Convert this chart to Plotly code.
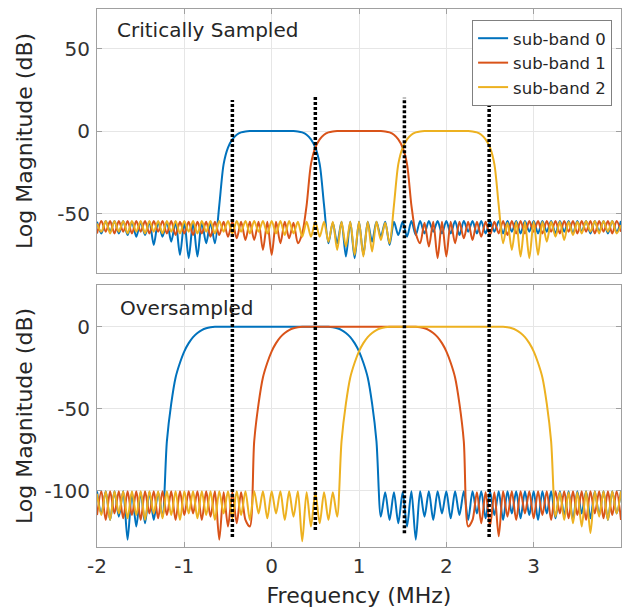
import plotly.graph_objects as go

# ---------------- data ----------------
freq_mhz = [
    -2.00, -1.95, -1.90, -1.85, -1.80, -1.75, -1.70, -1.65, -1.60, -1.55,
    -1.50, -1.45, -1.40, -1.35, -1.30, -1.25, -1.20, -1.15, -1.10, -1.05,
    -1.00, -0.95, -0.90, -0.85, -0.80, -0.75, -0.70, -0.65, -0.60, -0.55,
    -0.50, -0.45, -0.40, -0.35, -0.30, -0.25, -0.20, -0.15, -0.10, -0.05,
    0.00, 0.05, 0.10, 0.15, 0.20, 0.25, 0.30, 0.35, 0.40, 0.45,
    0.50, 0.55, 0.60, 0.65, 0.70, 0.75, 0.80, 0.85, 0.90, 0.95,
    1.00, 1.05, 1.10, 1.15, 1.20, 1.25, 1.30, 1.35, 1.40, 1.45,
    1.50, 1.55, 1.60, 1.65, 1.70, 1.75, 1.80, 1.85, 1.90, 1.95,
    2.00, 2.05, 2.10, 2.15, 2.20, 2.25, 2.30, 2.35, 2.40, 2.45,
    2.50, 2.55, 2.60, 2.65, 2.70, 2.75, 2.80, 2.85, 2.90, 2.95,
    3.00, 3.05, 3.10, 3.15, 3.20, 3.25, 3.30, 3.35, 3.40, 3.45,
    3.50, 3.55, 3.60, 3.65, 3.70, 3.75, 3.80, 3.85, 3.90, 3.95,
    4.00,
]

band_names = ["sub-band 0", "sub-band 1", "sub-band 2"]

# Critically sampled (top panel), dB
cs_band0 = [
    -55, -62, -54.5, -61, -54.5, -62, -54.5, -63, -55, -64,
    -55, -63, -55, -69, -55, -64, -55, -67, -55, -75,
    -55, -77, -55, -76, -55, -68, -55.5, -68, -45, -20,
    -10, -5, -2.2, -0.8, -0.2, 0, 0, 0, 0, 0,
    0, 0, 0, 0, 0, 0, -0.2, -0.8, -2.2, -5,
    -10, -20, -45, -68, -55.5, -68, -55, -76, -55, -77,
    -55, -75, -55, -67, -55, -64, -55, -69, -55, -63,
    -55, -64, -54.5, -63, -54.5, -62, -54.5, -61, -54.5, -62,
    -54.5, -62, -54.5, -63, -54.5, -61, -54.5, -62, -54.5, -62,
    -54.5, -61, -54.5, -62, -54.5, -61, -54.5, -62, -54.5, -61,
    -54.5, -62, -54.5, -61, -54.5, -62, -54.5, -61, -54.5, -62,
    -54.5, -61, -54.5, -62, -54.5, -61, -54.5, -62, -54.5, -61,
    -54.5,
]
cs_band1 = [
    -62, -54.5, -61, -54.5, -62, -54.5, -61, -54.5, -62, -54.5,
    -61, -54.5, -62, -54.5, -61, -54.5, -62, -54.5, -63, -55,
    -62, -55, -63, -55, -62, -55, -64, -55, -63, -55,
    -64, -55, -65, -55, -66, -55, -66, -55, -72, -55,
    -75, -55, -68, -55, -65, -55.5, -68, -62, -45, -20,
    -10, -5, -2.2, -0.8, -0.2, 0, 0, 0, 0, 0,
    0, 0, 0, 0, 0, 0, -0.2, -0.8, -2.2, -5,
    -10, -20, -45, -62, -68, -55.5, -70, -55, -77, -55,
    -76, -55, -68, -55, -65, -55, -66, -55, -64, -55,
    -63, -55, -62, -54.5, -63, -54.5, -62, -54.5, -62, -54.5,
    -61, -54.5, -62, -54.5, -61, -54.5, -62, -54.5, -61, -54.5,
    -62, -54.5, -61, -54.5, -62, -54.5, -61, -54.5, -62, -54.5,
    -61,
]
cs_band2 = [
    -56, -61, -54.5, -62, -54.5, -61, -54.5, -62, -54.5, -61,
    -54.5, -62, -54.5, -61, -54.5, -62, -54.5, -61, -54.5, -62,
    -54.5, -61, -54.5, -62, -54.5, -61, -54.5, -62, -54.5, -61,
    -54.5, -62, -54.5, -61, -54.5, -62, -54.5, -61, -54.5, -62,
    -54.5, -62, -54.5, -63, -54.5, -62, -55, -64, -55, -64,
    -55, -64, -55, -67, -55, -72, -55, -70, -55, -75,
    -55, -76, -55, -73, -55, -66, -55.5, -68, -45, -20,
    -10, -5, -2.2, -0.8, -0.2, 0, 0, 0, 0, 0,
    0, 0, 0, 0, 0, 0, -0.2, -0.8, -2.2, -5,
    -10, -20, -45, -68, -55.5, -72, -55, -76, -55, -77,
    -55, -75, -55, -67, -55, -64, -55, -66, -55, -63,
    -55, -62, -54.5, -61, -54.5, -62, -54.5, -61, -54.5, -62,
    -57,
]

# Oversampled (bottom panel), dB
os_band0 = [
    -100.5, -114, -100.5, -118, -100.5, -116, -100.5, -130, -101, -122,
    -101, -120, -101, -118, -101, -116, -70, -47, -31, -22,
    -15, -10, -6.3, -3.8, -2, -0.9, -0.3, 0, 0, 0,
    0, 0, 0, 0, 0, 0, 0, 0, 0, 0,
    0, 0, 0, 0, 0, 0, 0, 0, 0, 0,
    0, 0, 0, 0, -0.3, -0.9, -2, -3.8, -6.3, -10,
    -15, -22, -31, -47, -70, -116, -101, -118, -101, -120,
    -101, -122, -100.5, -130, -100.5, -116, -100.5, -118, -100.5, -114,
    -100.5, -117, -100.5, -115, -100.5, -118, -100.5, -114, -100.5, -117,
    -100.5, -115, -100.5, -118, -100.5, -114, -100.5, -117, -100.5, -115,
    -100.5, -118, -100.5, -114, -100.5, -117, -100.5, -115, -100.5, -118,
    -100.5, -114, -100.5, -117, -100.5, -115, -100.5, -118, -100.5, -114,
    -100.5,
]
os_band1 = [
    -115, -100.5, -118, -100.5, -114, -100.5, -117, -100.5, -115, -100.5,
    -118, -100.5, -114, -100.5, -117, -100.5, -115, -100.5, -118, -100.5,
    -115, -100.5, -114, -100.5, -118, -100.5, -116, -100.5, -130, -101,
    -122, -101, -120, -101, -118, -122, -70, -47, -31, -22,
    -15, -10, -6.3, -3.8, -2, -0.9, -0.3, 0, 0, 0,
    0, 0, 0, 0, 0, 0, 0, 0, 0, 0,
    0, 0, 0, 0, 0, 0, 0, 0, 0, 0,
    0, 0, 0, 0, -0.3, -0.9, -2, -3.8, -6.3, -10,
    -15, -22, -31, -47, -70, -122, -118, -101, -120, -101,
    -122, -101, -128, -100.5, -116, -100.5, -118, -100.5, -114, -100.5,
    -117, -100.5, -115, -100.5, -118, -100.5, -114, -100.5, -117, -100.5,
    -115, -100.5, -118, -100.5, -114, -100.5, -117, -100.5, -115, -100.5,
    -118,
]
os_band2 = [
    -102, -115, -100.5, -118, -100.5, -114, -100.5, -117, -100.5, -115,
    -100.5, -118, -100.5, -114, -100.5, -117, -100.5, -115, -100.5, -118,
    -100.5, -114, -100.5, -117, -100.5, -115, -100.5, -118, -100.5, -114,
    -100.5, -117, -100.5, -115, -100.5, -118, -100.5, -114, -100.5, -117,
    -100.5, -114, -100.5, -118, -100.5, -116, -100.5, -131, -101, -122,
    -101, -120, -101, -118, -101, -116, -70, -47, -31, -22,
    -15, -10, -6.3, -3.8, -2, -0.9, -0.3, 0, 0, 0,
    0, 0, 0, 0, 0, 0, 0, 0, 0, 0,
    0, 0, 0, 0, 0, 0, 0, 0, 0, 0,
    0, 0, 0, 0, -0.3, -0.9, -2, -3.8, -6.3, -10,
    -15, -22, -31, -47, -70, -116, -101, -118, -101, -120,
    -101, -122, -100.5, -126, -100.5, -116, -100.5, -118, -100.5, -114,
    -100.5,
]

divider_freqs = [-0.45, 0.50, 1.52, 2.49]

x_tick_vals = [-2, -1, 0, 1, 2, 3]
x_tick_text = ["-2", "-1", "0", "1", "2", "3"]
top_y_ticks = [-50, 0, 50]
top_y_text = ["-50", "0", "50"]
bottom_y_ticks = [-100, -50, 0]
bottom_y_text = ["-100", "-50", "0"]

panel_titles = ["Critically Sampled", "Oversampled"]
x_title = "Frequency (MHz)"
y_title = "Log Magnitude (dB)"

for s in (cs_band0, cs_band1, cs_band2, os_band0, os_band1, os_band2):
    assert len(s) == len(freq_mhz), len(s)

# ---------------- figure ----------------
colors = ["#0072BD", "#D95319", "#EDB120"]
FONT = "DejaVu Sans"
TXT = "#262626"

fig = go.Figure()
for name, ys, col in zip(band_names, (cs_band0, cs_band1, cs_band2), colors):
    fig.add_trace(go.Scatter(x=freq_mhz, y=ys, name=name, mode="lines",
                             line=dict(color=col, width=2, shape="spline", smoothing=0.8),
                             xaxis="x", yaxis="y", legendgroup=name))
for name, ys, col in zip(band_names, (os_band0, os_band1, os_band2), colors):
    fig.add_trace(go.Scatter(x=freq_mhz, y=ys, name=name, mode="lines", showlegend=False,
                             line=dict(color=col, width=2, shape="spline", smoothing=0.8),
                             xaxis="x2", yaxis="y2", legendgroup=name))

axis_common = dict(showline=True, linecolor="#a0a0a0", linewidth=1.2, mirror="ticks",
                   ticks="inside", ticklen=5, tickcolor="#a0a0a0",
                   showgrid=True, gridcolor="#e6e6e6", gridwidth=1, zeroline=False,
                   automargin=False,
                   tickfont=dict(family=FONT, size=20, color="#333333"))

top_dom = [0.5093, 1.0]
bot_dom = [0.0, 0.487]

fig.update_layout(
    width=630, height=608,
    margin=dict(l=97, r=9, t=9, b=61),
    paper_bgcolor="white", plot_bgcolor="white",
    font=dict(family=FONT, color=TXT),
    xaxis=dict(domain=[0, 1], anchor="y", range=[-2, 4], tickvals=x_tick_vals,
               ticktext=x_tick_text, showticklabels=False, **axis_common),
    yaxis=dict(domain=top_dom, anchor="x", range=[-86, 74], tickvals=top_y_ticks,
               ticktext=top_y_text, ticklabelstandoff=2, **axis_common),
    xaxis2=dict(domain=[0, 1], anchor="y2", range=[-2, 4], tickvals=x_tick_vals,
                ticktext=x_tick_text, ticklabelstandoff=1,
                title=dict(text=x_title, font=dict(family=FONT, size=22, color=TXT)),
                **axis_common),
    yaxis2=dict(domain=bot_dom, anchor="x2", range=[-134.5, 25.5], tickvals=bottom_y_ticks,
                ticktext=bottom_y_text, ticklabelstandoff=2, **axis_common),
    legend=dict(x=0.983, y=0.9796, xanchor="right", yanchor="top",
                bgcolor="white", bordercolor="#808080", borderwidth=1,
                font=dict(family=FONT, size=16.5, color=TXT), tracegroupgap=0),
    showlegend=True,
)

# y-axis titles (placed as rotated text beside each panel)
for yref in ("y domain", "y2 domain"):
    fig.add_annotation(text=y_title, xref="paper", yref=yref, x=-0.1374, y=0.5,
                       xanchor="center", yanchor="middle", textangle=-90, showarrow=False,
                       font=dict(family=FONT, size=22, color=TXT))

fig.add_annotation(text=panel_titles[0], xref="x domain", yref="y domain",
                   x=0.034, y=0.92, xanchor="left", yanchor="middle", showarrow=False,
                   font=dict(family=FONT, size=20, color=TXT))
fig.add_annotation(text=panel_titles[1], xref="x2 domain", yref="y2 domain",
                   x=0.040, y=0.912, xanchor="left", yanchor="middle", showarrow=False,
                   font=dict(family=FONT, size=20, color=TXT))

# dotted sub-band boundaries spanning both panels
spans = [(0.0186, 0.8309), (0.0316, 0.8401), (0.0254, 0.8351), (0.0186, 0.8309)]
for f, (y0, y1) in zip(divider_freqs, spans):
    fig.add_shape(type="line", xref="x2", yref="paper", x0=f, x1=f, y0=y0, y1=y1,
                  line=dict(color="black", width=3.5, dash="3px,2px"), layer="above")

fig.write_html("out.html")
